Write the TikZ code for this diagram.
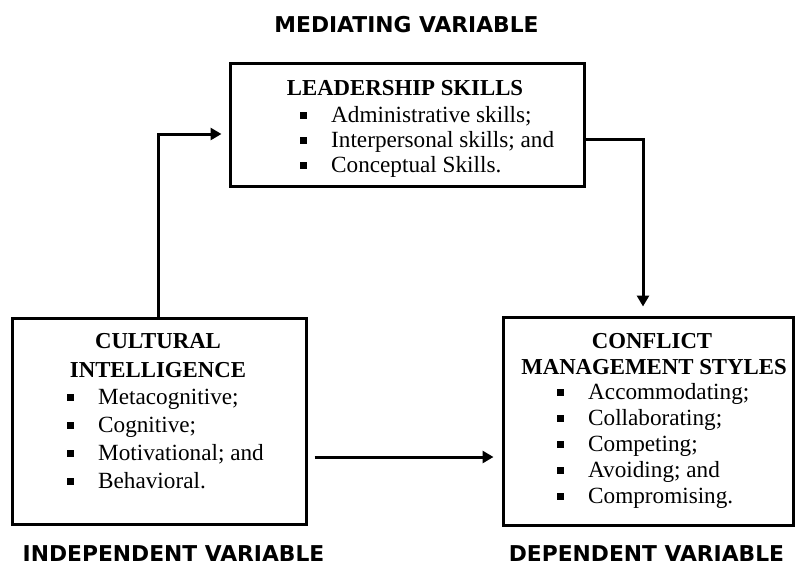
\documentclass[tikz,border=0pt]{standalone}
\usepackage{fontspec}
\setmainfont{Liberation Serif}
\newfontfamily\varfont{DejaVu Sans}
\usetikzlibrary{arrows.meta}

% square bullet followed by the gap before the item text
\newcommand{\sqitem}{\makebox[31pt][l]{\rule[3.5pt]{6.5pt}{6.5pt}}}

\tikzset{
  box/.style={draw, line width=3pt, inner sep=0pt},
  boxtext/.style={inner sep=0pt, anchor=base west, font=\fontsize{23.2pt}{26pt}\selectfont},
  boxhead/.style={inner sep=0pt, anchor=base, font=\fontsize{22.8pt}{26pt}\selectfont\bfseries},
  varlabel/.style={inner sep=0pt, anchor=base, font=\varfont\bfseries\fontsize{21.8pt}{24pt}\selectfont},
  link/.style={line width=3pt, -{Triangle[length=11pt,width=12pt]}}
}

\begin{document}
\begin{tikzpicture}[x=1pt,y=-1pt]
\useasboundingbox (0,0) rectangle (795,566);

% boxes
\node[box, minimum width=354pt, minimum height=123pt] (lead) at (407,124.5) {};
\node[box, minimum width=294pt, minimum height=206pt] (cult) at (159,421) {};
\node[box, minimum width=290pt, minimum height=208pt] (conf) at (648,421) {};

% leadership skills
\node[boxhead] (lead-h) at (405,95) {LEADERSHIP SKILLS};
\foreach \t [count=\i] in {Administrative skills;, Interpersonal skills; and, Conceptual Skills.}
  \node[boxtext] (lead-\i) at (300,{97+25*\i}) {\sqitem\t};

% cultural intelligence
\node[boxhead] (cult-h1) at (158,348) {CULTURAL};
\node[boxhead] (cult-h2) at (158,377) {INTELLIGENCE};
\foreach \t [count=\i] in {Metacognitive;, Cognitive;, Motivational; and, Behavioral.}
  \node[boxtext] (cult-\i) at (67,{376+28*\i}) {\sqitem\t};

% conflict management styles
\node[boxhead] (conf-h1) at (652,348) {CONFLICT};
\node[boxhead] (conf-h2) at (654,374) {MANAGEMENT STYLES};
\foreach \t [count=\i] in {Accommodating;, Collaborating;, Competing;, Avoiding; and, Compromising.}
  \node[boxtext] (conf-\i) at (557,{373+26*\i}) {\sqitem\t};

% variable labels
\node[varlabel] (med) at (406.5,32) {MEDIATING VARIABLE};
\node[varlabel] (ind) at (173.5,561) {INDEPENDENT VARIABLE};
\node[varlabel] (dep) at (646.5,561) {DEPENDENT VARIABLE};

% connectors
\coordinate (j1) at (158,134);
\coordinate (j2) at (643,139);
\coordinate (j3) at (0,457);
\draw[link, shorten >=7pt] (cult.north -| j1) |- (lead.west |- j1);
\draw[link, shorten >=9pt] (lead.east |- j2) -| (conf.north -| j2);
\draw[link, shorten <=7pt, shorten >=8pt] (cult.east |- j3) -- (conf.west |- j3);
\end{tikzpicture}
\end{document}
